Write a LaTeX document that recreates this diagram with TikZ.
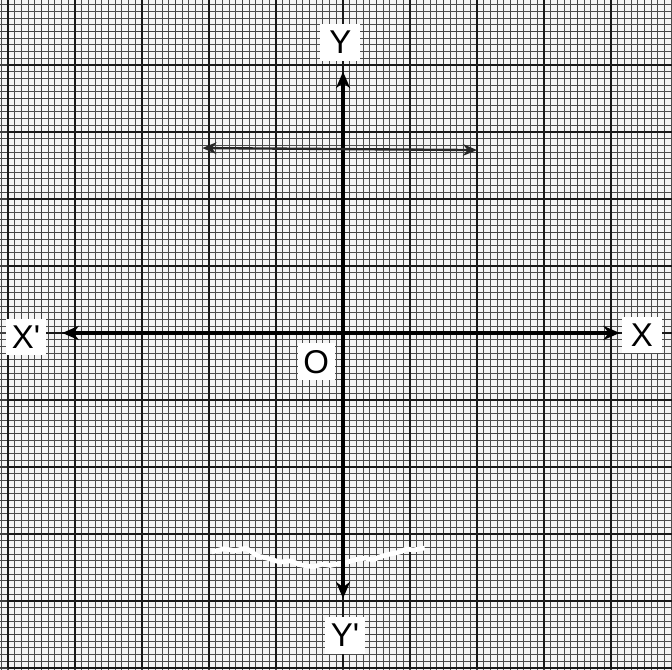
\documentclass[tikz,border=0pt]{standalone}
\usepackage{fontspec}
\setmainfont{Liberation Sans}
\usetikzlibrary{arrows.meta}

\begin{document}
\begin{tikzpicture}[
  minorgrid/.style={draw=black!70,line width=0.4pt},
  halfgrid/.style={draw=black!75,line width=0.55pt},
  majorgrid/.style={draw=black!90,line width=1.1pt},
  axislabel/.style={fill=white,inner sep=0pt,minimum width=0.6cm,minimum height=0.55cm,font=\fontsize{14}{16}\selectfont},
  axisline/.style={draw=black,line width=1.7pt,{Stealth[length=7pt,width=6pt]}-{Stealth[length=7pt,width=6pt]}},
  segline/.style={draw=black!85,line width=1pt,{Stealth[length=6pt,width=5pt]}-{Stealth[length=6pt,width=5pt]}}
]
\useasboundingbox (-5.12,-5.03) rectangle (4.91,4.97);
\clip (-5.12,-5.03) rectangle (4.91,4.97);
\fill[black!4] (-5.12,-5.03) rectangle (4.91,4.97);

% graph paper
\path[minorgrid] (-5.2,-5.2) grid[step=0.1] (5.2,5.2);
\path[halfgrid] (-5.5,-5.5) grid[step=0.5] (5.5,5.5);
\path[majorgrid] (-5,-5) grid[step=1] (5,5);

% rubbed out mark
\path[draw=white,line width=2pt,line join=round] (-1.96,-3.27) -- (-1.78,-3.22) -- (-1.61,-3.25) -- (-1.45,-3.21)
  -- (-1.27,-3.33) -- (-1.10,-3.37) -- (-0.94,-3.42) -- (-0.78,-3.40) -- (-0.64,-3.46) -- (-0.45,-3.49)
  -- (-0.30,-3.45) -- (-0.19,-3.47) -- (0.06,-3.42) -- (0.20,-3.38) -- (0.33,-3.36) -- (0.45,-3.39)
  -- (0.55,-3.34) -- (0.70,-3.30) -- (0.85,-3.27) -- (0.95,-3.22) -- (1.04,-3.24) -- (1.22,-3.21);

\coordinate (xneg) at (-4.19,0);
\coordinate (xpos) at (4.13,0);
\coordinate (ypos) at (0,3.90);
\coordinate (yneg) at (0,-3.96);
\coordinate (segl) at (-2.10,2.76);
\coordinate (segr) at (2.00,2.73);

\node[axislabel] (xl) at (-4.73,-0.06) {X\textquotesingle};
\node[axislabel] (xr) at (4.46,-0.03) {X};
\node[axislabel] (yt) at (-0.04,4.34) {Y};
\node[axislabel] (yb) at (0.03,-4.51) {Y\textquotesingle};
\node[axislabel,minimum width=0.55cm] (o) at (-0.40,-0.43) {O};

\path[axisline] (xneg) -- (xpos);
\path[axisline] (yneg) -- (ypos);
\path[segline] (segl) -- (segr);
\end{tikzpicture}
\end{document}
